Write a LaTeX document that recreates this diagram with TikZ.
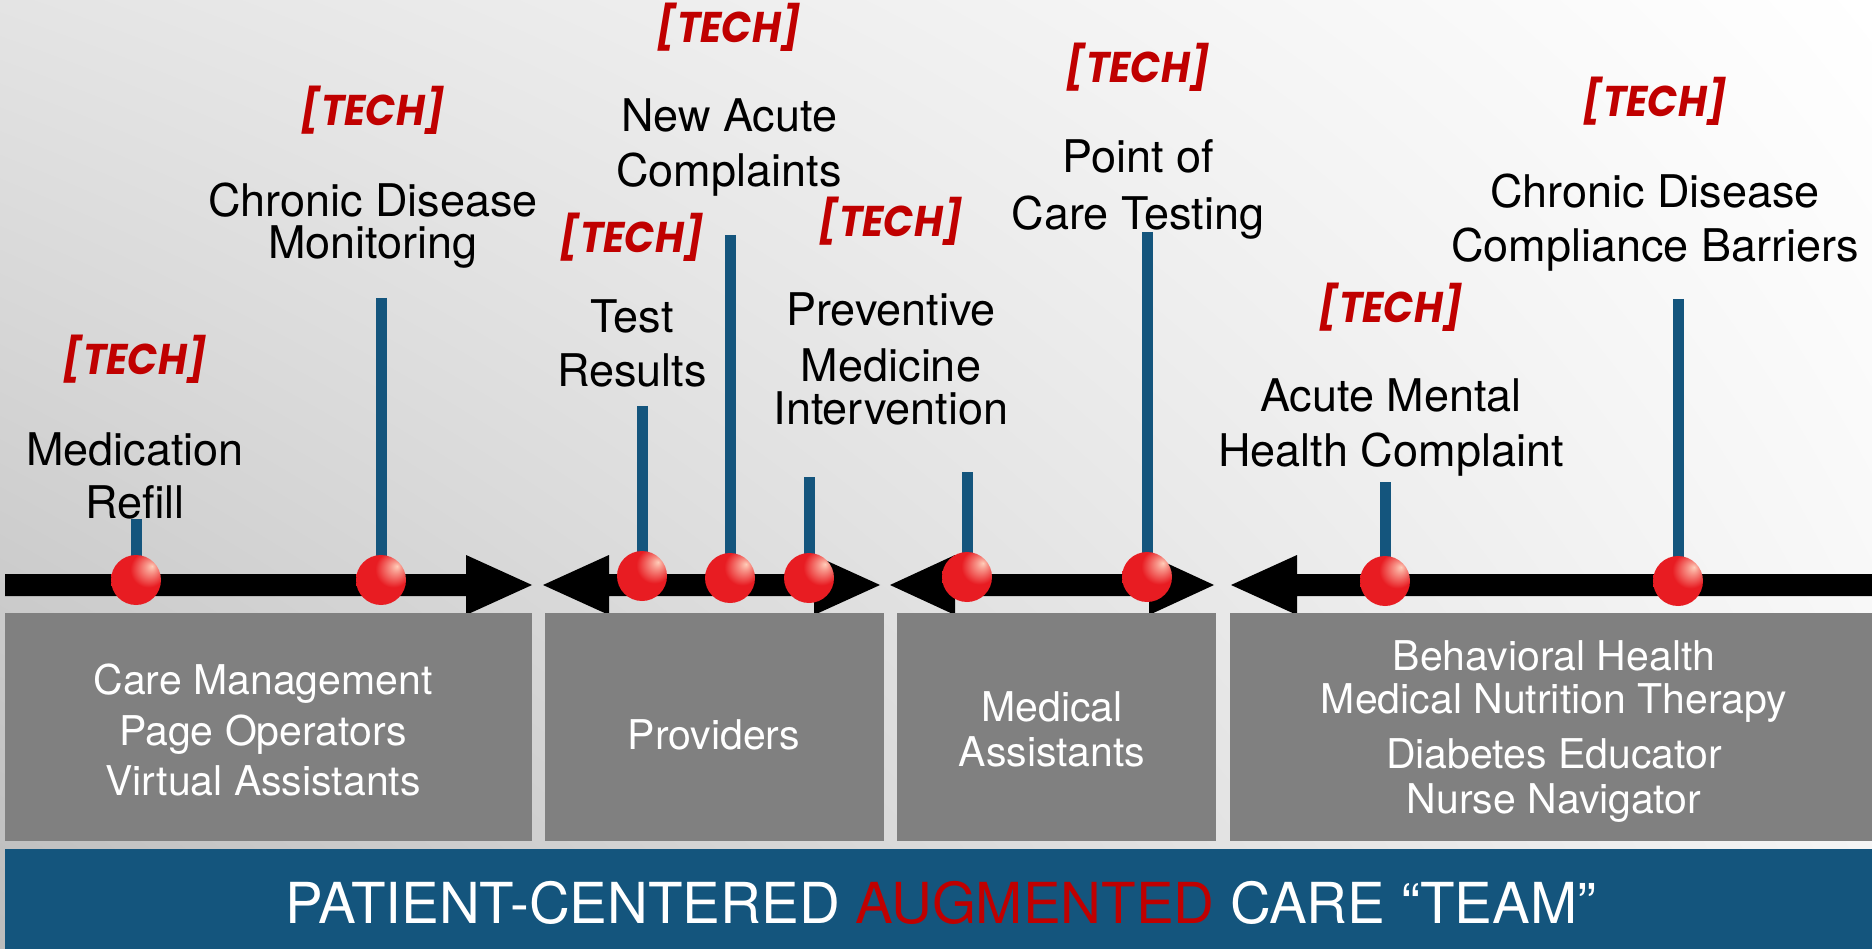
\documentclass[tikz,border=0pt]{standalone}
\usepackage{fontspec}
\setmainfont{TeX Gyre Heros}
\newfontfamily\techfont{Poppins}[FakeStretch=0.92]
\usetikzlibrary{shadings}
\definecolor{navy}{RGB}{20,85,125}
\definecolor{techred}{RGB}{192,0,0}
\definecolor{boxgray}{RGB}{128,128,128}
\definecolor{ballred}{RGB}{232,28,34}
\definecolor{ballhi}{RGB}{255,205,185}
\definecolor{balledge}{RGB}{170,18,22}
\definecolor{bgul}{RGB}{228,228,228}
\definecolor{bgll}{RGB}{188,188,188}
\definecolor{bglr}{RGB}{244,244,244}
\pgfdeclareradialshading{redball}{\pgfqpoint{16bp}{14bp}}{%
  color(0bp)=(ballhi); color(5bp)=(ballhi!70!ballred); color(18bp)=(ballred); color(40bp)=(ballred);
  color(56bp)=(balledge); color(75bp)=(balledge)}
\tikzset{
  lbl/.style={anchor=base, inner sep=0pt, text=black, font=\fontsize{45}{45}\selectfont},
  tech/.style={anchor=base, inner sep=0pt, text=techred, font=\techfont\bfseries\itshape\fontsize{43}{43}\selectfont},
  boxtxt/.style={anchor=base, inner sep=0pt, text=white, font=\fontsize{41}{41}\selectfont},
  teambox/.style={fill=boxgray, draw=none},
  stemline/.style={draw=navy, line width=11pt},
  ballnode/.style={circle, minimum size=50pt, inner sep=0pt, shading=redball},
  arrowbody/.style={fill=black}
}
\begin{document}
\begin{tikzpicture}[x=1pt,y=-1pt]
\useasboundingbox (0,0) rectangle (1872,949);
% background
\shade[upper left=bgul, upper right=white, lower left=bgll, lower right=bglr]
  (0,0) rectangle (1872,949);

% arrows
\fill[arrowbody] (5,574) -- (466,574) -- (466,555) -- (532,585) -- (466,615) -- (466,596) -- (5,596) -- cycle;
\fill[arrowbody] (543,585) -- (609,555) -- (609,574) -- (814,574) -- (814,555) -- (880,585) -- (814,615) -- (814,596) -- (609,596) -- (609,615) -- cycle;
\fill[arrowbody] (890,585) -- (955,555) -- (955,574) -- (1149,574) -- (1149,555) -- (1214,585) -- (1149,615) -- (1149,596) -- (955,596) -- (955,615) -- cycle;
\fill[arrowbody] (1231,585) -- (1297,555) -- (1297,574) -- (1872,574) -- (1872,596) -- (1297,596) -- (1297,615) -- cycle;

% boxes
\fill[teambox] (5,613) rectangle (532,841);
\fill[teambox] (545,613) rectangle (884,841);
\fill[teambox] (897,613) rectangle (1216,841);
\fill[teambox] (1230,613) rectangle (1872,841);
\fill[navy] (5,849) rectangle (1872,949);

% stems and balls
\coordinate (c1) at (136,580);  \coordinate (s1) at (136,519);
\coordinate (c2) at (381,580);  \coordinate (s2) at (381,298);
\coordinate (c3) at (642,576);  \coordinate (s3) at (642,406);
\coordinate (c4) at (730,578);  \coordinate (s4) at (730,235);
\coordinate (c5) at (809,578);  \coordinate (s5) at (809,477);
\coordinate (c6) at (967,577);  \coordinate (s6) at (967,472);
\coordinate (c7) at (1147,577); \coordinate (s7) at (1147,232);
\coordinate (c8) at (1385,581); \coordinate (s8) at (1385,482);
\coordinate (c9) at (1678,581); \coordinate (s9) at (1678,299);
\foreach \i in {1,...,9} {
  \draw[stemline] (s\i) -- (c\i);
  \node[ballnode] (b\i) at (c\i) {};
}

% labels
\node[tech] (t1) at (135,375) {[TECH]};
\node[lbl] (l1a) at (135,465) {Medication};
\node[lbl] (l1b) at (135,518) {Refill};

\node[tech] (t2) at (373,126) {[TECH]};
\node[lbl] (l2a) at (373,217) {Chronic Disease};
\node[lbl] (l2b) at (373,259) {Monitoring};

\node[tech] (t3) at (729,43) {[TECH]};
\node[lbl] (l3a) at (729,132) {New Acute};
\node[lbl] (l3b) at (729,187) {Complaints};

\node[tech] (t4) at (632,253) {[TECH]};
\node[lbl] (l4a) at (632,333) {Test};
\node[lbl] (l4b) at (632,387) {Results};

\node[tech] (t5) at (891,237) {[TECH]};
\node[lbl] (l5a) at (891,326) {Preventive};
\node[lbl] (l5b) at (891,382) {Medicine};
\node[lbl] (l5c) at (891,425) {Intervention};

\node[tech] (t6) at (1138,83) {[TECH]};
\node[lbl] (l6a) at (1138,173) {Point of};
\node[lbl] (l6b) at (1138,230) {Care Testing};

\node[tech] (t7) at (1391,323) {[TECH]};
\node[lbl] (l7a) at (1391,412) {Acute Mental};
\node[lbl] (l7b) at (1391,467) {Health Complaint};

\node[tech] (t8) at (1655,117) {[TECH]};
\node[lbl] (l8a) at (1655,208) {Chronic Disease};
\node[lbl] (l8b) at (1655,262) {Compliance Barriers};

% box texts
\node[boxtxt] (x1a) at (263,694) {Care Management};
\node[boxtxt] (x1b) at (263,745) {Page Operators};
\node[boxtxt] (x1c) at (263,795) {Virtual Assistants};
\node[boxtxt] (x2a) at (714,749) {Providers};
\node[boxtxt] (x3a) at (1052,721) {Medical};
\node[boxtxt] (x3b) at (1052,766) {Assistants};
\node[boxtxt] (x4a) at (1554,670) {Behavioral Health};
\node[boxtxt] (x4b) at (1554,713) {Medical Nutrition Therapy};
\node[boxtxt] (x4c) at (1554,768) {Diabetes Educator};
\node[boxtxt] (x4d) at (1554,813) {Nurse Navigator};

\node[anchor=base, inner sep=0pt, text=white, font=\fontsize{56.5}{56.5}\selectfont] (banner) at (941,923)
  {PATIENT-CENTERED \textcolor{techred}{AUGMENTED} CARE “TEAM”};
\end{tikzpicture}
\end{document}
